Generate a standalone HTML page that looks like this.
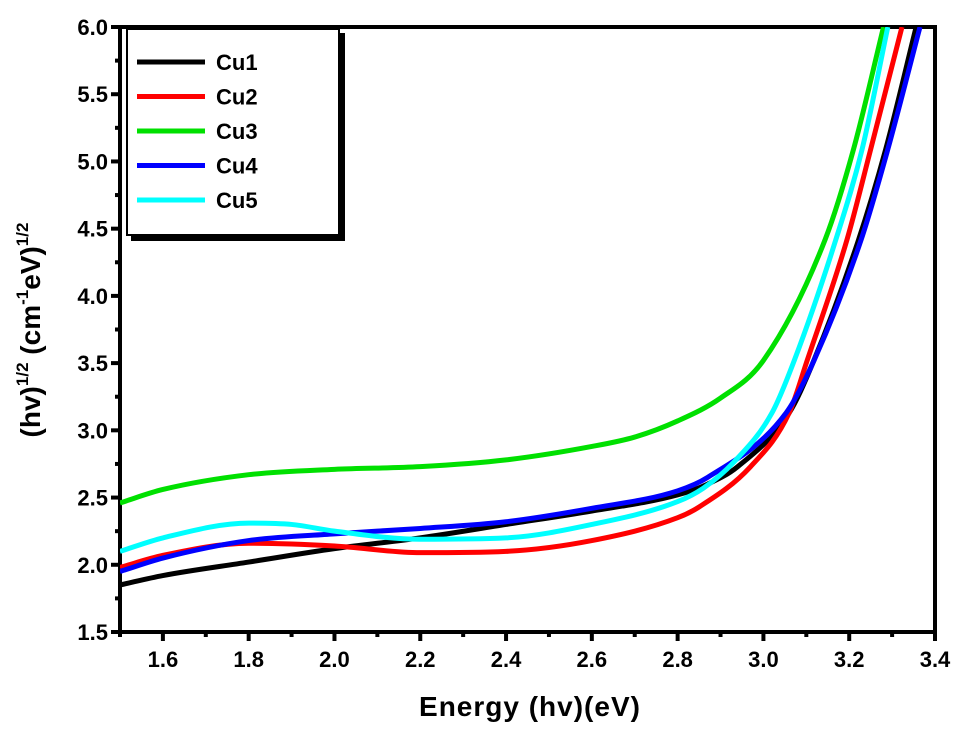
<!DOCTYPE html>
<html><head><meta charset="utf-8"><style>
body{margin:0;background:#fff;}
svg{display:block;font-family:"Liberation Sans",Arial,sans-serif;font-weight:bold;}
</style></head><body>
<svg id="chart" width="962" height="730">
<g id="axes"></g><g id="series"></g><g id="legend"></g>
<text x="530" y="716" font-size="28" text-anchor="middle" letter-spacing="1">Energy (hv)(eV)</text>
<text transform="translate(40,330) rotate(-90)" font-size="28" text-anchor="middle">(hv)<tspan font-size="17" dy="-12">1/2</tspan><tspan dy="12"> (cm</tspan><tspan font-size="17" dy="-12">-1</tspan><tspan dy="12">eV)</tspan><tspan font-size="17" dy="-12">1/2</tspan></text>
</svg>
<script>
const xTicks=[1.6,1.8,2.0,2.2,2.4,2.6,2.8,3.0,3.2,3.4];
const yTicks=[1.5,2.0,2.5,3.0,3.5,4.0,4.5,5.0,5.5,6.0];
const names=["Cu1","Cu2","Cu3","Cu4","Cu5"];
const colors=["#000000","#ff0000","#00e000","#0000ff","#00ffff"];
const cu1X=[1.5,1.6,1.8,2.0,2.2,2.4,2.6,2.8,2.87,2.94,3.06,3.115,3.22,3.285,3.356];
const cu1Y=[1.85,1.92,2.02,2.12,2.2,2.3,2.4,2.52,2.6,2.73,3.13,3.5,4.4,5.09,6.0];
const cu2X=[1.5,1.6,1.8,2.0,2.2,2.4,2.6,2.8,2.85,2.97,3.06,3.102,3.195,3.25,3.323];
const cu2Y=[1.98,2.07,2.16,2.14,2.09,2.1,2.18,2.35,2.43,2.73,3.13,3.52,4.42,5.09,6.0];
const cu3X=[1.5,1.6,1.8,2.0,2.2,2.4,2.6,2.7,2.8,2.9,3.0,3.144,3.21,3.28];
const cu3Y=[2.46,2.56,2.67,2.71,2.73,2.78,2.88,2.95,3.07,3.24,3.52,4.42,5.09,6.0];
const cu4X=[1.5,1.6,1.8,2.0,2.2,2.4,2.6,2.8,2.87,3.053,3.118,3.228,3.29,3.365];
const cu4Y=[1.95,2.05,2.18,2.23,2.27,2.32,2.42,2.55,2.65,3.13,3.52,4.42,5.09,6.0];
const cu5X=[1.5,1.6,1.8,1.9,2.0,2.2,2.4,2.6,2.8,2.86,2.93,3.02,3.072,3.169,3.23,3.29];
const cu5Y=[2.1,2.2,2.31,2.3,2.25,2.19,2.2,2.3,2.47,2.57,2.76,3.13,3.52,4.42,5.09,6.0];
const seriesX=[cu1X,cu2X,cu3X,cu4X,cu5X], seriesY=[cu1Y,cu2Y,cu3Y,cu4Y,cu5Y];
const X0=120,X1=935,Y0=632,Y1=27;
const sx=v=>X0+(v-1.5)/(3.4-1.5)*(X1-X0);
const sy=v=>Y0-(v-1.5)/(6.0-1.5)*(Y0-Y1);
const NS="http://www.w3.org/2000/svg";
function mk(p,t,a){const e=document.createElementNS(NS,t);for(const k in a)e.setAttribute(k,a[k]);p.appendChild(e);return e;}
const ax=document.getElementById('axes');
const frame=mk(ax,'rect',{x:X0,y:Y1,width:X1-X0,height:Y0-Y1,fill:'none',stroke:'#000','stroke-width':4});


for(let v=1.5;v<=3.41;v+=0.1){const x=sx(v);const major=Math.abs(Math.round(v*10)%2)==0;
 const t=mk(ax,'line',{x1:x,y1:Y0,x2:x,y2:Y0+(major?9:5),stroke:'#000','stroke-width':4});
 
 }
xTicks.forEach(v=>{const t=mk(ax,'text',{x:sx(v),y:Y0+35,'font-size':22,'text-anchor':'middle'});t.textContent=v.toFixed(1);
 
 });
for(let v=1.5;v<=6.01;v+=0.25){const y=sy(v);const major=Math.abs((v*4)%2)<0.01;
 const t=mk(ax,'line',{x1:X0,y1:y,x2:X0-(major?9:5),y2:y,stroke:'#000','stroke-width':4});
 
 }
yTicks.forEach(v=>{const t=mk(ax,'text',{x:X0-12,y:sy(v)+8,'font-size':22,'text-anchor':'end'});t.textContent=v.toFixed(1);
 
 });
function monoPath(xs,ys){
 const n=xs.length,d=[],m=[];
 for(let i=0;i<n-1;i++)d.push((ys[i+1]-ys[i])/(xs[i+1]-xs[i]));
 m[0]=d[0];m[n-1]=d[n-2];
 for(let i=1;i<n-1;i++){m[i]=(d[i-1]*d[i]<=0)?0:(d[i-1]+d[i])/2;}
 for(let i=0;i<n-1;i++){if(d[i]===0){m[i]=0;m[i+1]=0;continue;}
  const a=m[i]/d[i],b=m[i+1]/d[i],s=a*a+b*b;if(s>9){const t=3/Math.sqrt(s);m[i]=t*a*d[i];m[i+1]=t*b*d[i];}}
 let p=`M${sx(xs[0])},${sy(ys[0])}`;
 for(let i=0;i<n-1;i++){const h=xs[i+1]-xs[i];
  const c1x=xs[i]+h/3,c1y=ys[i]+m[i]*h/3,c2x=xs[i+1]-h/3,c2y=ys[i+1]-m[i+1]*h/3;
  p+=` C${sx(c1x)},${sy(c1y)} ${sx(c2x)},${sy(c2y)} ${sx(xs[i+1])},${sy(ys[i+1])}`;}
 return p;}
const sg=document.getElementById('series');
const cp=mk(sg,'clipPath',{id:'clip'});mk(cp,'rect',{x:X0,y:Y1,width:X1-X0,height:Y0-Y1});
seriesX.forEach((xs,i)=>{
 const p=mk(sg,'path',{d:monoPath(xs,seriesY[i]),fill:'none',stroke:colors[i],'stroke-width':5,'clip-path':'url(#clip)'});
 
 });
const lg=document.getElementById('legend');


mk(lg,'rect',{x:131,y:33,width:214,height:208,fill:'#000'});
mk(lg,'rect',{x:127,y:29,width:212,height:206,fill:'#fff',stroke:'#000','stroke-width':2});
names.forEach((n,i)=>{const y=62+i*34.5;
 const l=mk(lg,'line',{x1:137,y1:y,x2:205,y2:y,stroke:colors[i],'stroke-width':5});
 
 
 const t=mk(lg,'text',{x:216,y:y+8,'font-size':22});t.textContent=n;
 
 });
</script>
</body></html>
